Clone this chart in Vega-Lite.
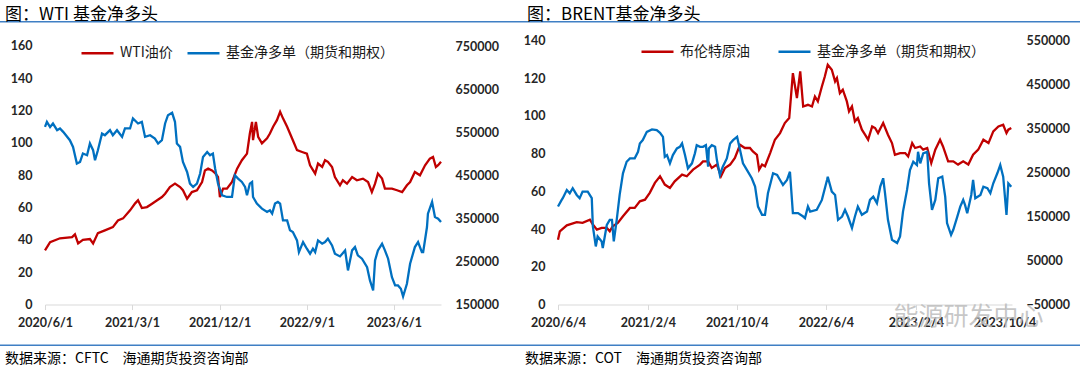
{
"$schema": "https://vega.github.io/schema/vega-lite/v6.json",
"background": "white",
"padding": {"left": 0, "top": 5, "right": 0, "bottom": 0},
"config": {"view": {"stroke": null}, "font": "Noto Sans CJK SC"},
"datasets": {
"wti": [
{"date":"2020-06-01","v":33.5},{"date":"2020-06-17","v":38.6},{"date":"2020-07-18","v":41},{"date":"2020-08-25","v":41.7},{"date":"2020-09-03","v":43.4},{"date":"2020-09-13","v":37.8},{"date":"2020-09-28","v":40},{"date":"2020-10-20","v":40.5},{"date":"2020-10-30","v":37.8},{"date":"2020-11-14","v":44.2},{"date":"2020-12-06","v":45.9},{"date":"2020-12-31","v":47.9},{"date":"2021-01-16","v":52},{"date":"2021-02-01","v":53.3},{"date":"2021-02-23","v":58.3},{"date":"2021-03-11","v":62.6},{"date":"2021-03-20","v":64.5},{"date":"2021-04-01","v":59.7},{"date":"2021-04-17","v":60.3},{"date":"2021-05-03","v":62.4},{"date":"2021-05-19","v":64.5},{"date":"2021-06-03","v":66.5},{"date":"2021-06-13","v":68.6},{"date":"2021-06-28","v":72.7},{"date":"2021-07-14","v":74.8},{"date":"2021-07-30","v":72.7},{"date":"2021-08-08","v":70.7},{"date":"2021-08-21","v":65.5},{"date":"2021-09-05","v":69.6},{"date":"2021-09-21","v":70.7},{"date":"2021-10-07","v":75.8},{"date":"2021-10-16","v":83},{"date":"2021-10-26","v":84.1},{"date":"2021-11-07","v":83},{"date":"2021-11-17","v":81.4},{"date":"2021-11-26","v":78.9},{"date":"2021-12-02","v":66.5},{"date":"2021-12-12","v":71.7},{"date":"2021-12-24","v":71.7},{"date":"2022-01-09","v":75.8},{"date":"2022-01-25","v":84.1},{"date":"2022-02-09","v":89.3},{"date":"2022-02-25","v":93.4},{"date":"2022-03-06","v":105.8},{"date":"2022-03-13","v":113},{"date":"2022-03-16","v":101.7},{"date":"2022-03-25","v":113},{"date":"2022-04-01","v":103.8},{"date":"2022-04-13","v":99.7},{"date":"2022-04-29","v":102.8},{"date":"2022-05-08","v":105.8},{"date":"2022-05-18","v":110},{"date":"2022-05-30","v":114.1},{"date":"2022-06-09","v":119.3},{"date":"2022-06-18","v":115.2},{"date":"2022-07-01","v":110},{"date":"2022-07-10","v":105.8},{"date":"2022-07-19","v":101.7},{"date":"2022-08-01","v":95.5},{"date":"2022-08-17","v":94.4},{"date":"2022-09-01","v":93.4},{"date":"2022-09-11","v":86.2},{"date":"2022-09-27","v":81},{"date":"2022-10-06","v":87.2},{"date":"2022-10-19","v":85.1},{"date":"2022-10-28","v":89.3},{"date":"2022-11-06","v":88.3},{"date":"2022-11-19","v":85.1},{"date":"2022-11-28","v":78.9},{"date":"2022-12-14","v":73.8},{"date":"2022-12-23","v":76.9},{"date":"2023-01-05","v":74.8},{"date":"2023-01-21","v":78.9},{"date":"2023-02-05","v":76.9},{"date":"2023-02-24","v":77.9},{"date":"2023-03-12","v":75.8},{"date":"2023-03-24","v":69.6},{"date":"2023-04-03","v":74.8},{"date":"2023-04-12","v":81},{"date":"2023-04-25","v":77.9},{"date":"2023-05-04","v":71.7},{"date":"2023-05-26","v":71.7},{"date":"2023-06-11","v":70.7},{"date":"2023-06-27","v":69.6},{"date":"2023-07-12","v":73.8},{"date":"2023-07-22","v":75.8},{"date":"2023-08-06","v":82},{"date":"2023-08-22","v":80},{"date":"2023-09-07","v":86.2},{"date":"2023-09-22","v":90.3},{"date":"2023-10-02","v":91.3},{"date":"2023-10-11","v":85.1},{"date":"2023-10-18","v":86.2},{"date":"2023-10-27","v":88.3}
],
"wtiNet": [
{"date":"2020-06-01","v":562300},{"date":"2020-06-07","v":574000},{"date":"2020-06-17","v":562000},{"date":"2020-06-26","v":570000},{"date":"2020-07-09","v":554600},{"date":"2020-07-18","v":558600},{"date":"2020-07-28","v":550700},{"date":"2020-08-18","v":531400},{"date":"2020-08-28","v":515800},{"date":"2020-09-09","v":477200},{"date":"2020-09-19","v":481000},{"date":"2020-09-28","v":500500},{"date":"2020-10-11","v":496500},{"date":"2020-10-20","v":523700},{"date":"2020-10-30","v":508100},{"date":"2020-11-05","v":484900},{"date":"2020-11-14","v":508100},{"date":"2020-11-27","v":547000},{"date":"2020-12-06","v":543000},{"date":"2020-12-22","v":554600},{"date":"2020-12-31","v":543000},{"date":"2021-01-13","v":554600},{"date":"2021-01-29","v":539100},{"date":"2021-02-07","v":558600},{"date":"2021-02-23","v":558600},{"date":"2021-03-04","v":581800},{"date":"2021-03-20","v":570200},{"date":"2021-04-01","v":574000},{"date":"2021-04-11","v":539100},{"date":"2021-04-27","v":543000},{"date":"2021-05-12","v":535300},{"date":"2021-05-22","v":523700},{"date":"2021-06-03","v":531400},{"date":"2021-06-13","v":570200},{"date":"2021-06-22","v":589500},{"date":"2021-07-05","v":595000},{"date":"2021-07-14","v":574000},{"date":"2021-07-20","v":523700},{"date":"2021-07-30","v":515800},{"date":"2021-08-08","v":481000},{"date":"2021-08-21","v":457700},{"date":"2021-08-30","v":430700},{"date":"2021-09-09","v":422800},{"date":"2021-09-21","v":430700},{"date":"2021-10-01","v":454000},{"date":"2021-10-10","v":492600},{"date":"2021-10-23","v":504200},{"date":"2021-11-01","v":496500},{"date":"2021-11-10","v":500500},{"date":"2021-11-17","v":465600},{"date":"2021-11-26","v":430700},{"date":"2021-12-09","v":403500},{"date":"2021-12-24","v":399600},{"date":"2022-01-09","v":399600},{"date":"2022-01-18","v":450000},{"date":"2022-01-28","v":442300},{"date":"2022-02-09","v":434400},{"date":"2022-02-19","v":422800},{"date":"2022-02-25","v":403500},{"date":"2022-03-06","v":430700},{"date":"2022-03-13","v":434400},{"date":"2022-03-16","v":399600},{"date":"2022-03-28","v":384200},{"date":"2022-04-13","v":372600},{"date":"2022-04-29","v":364700},{"date":"2022-05-08","v":368600},{"date":"2022-05-15","v":360900},{"date":"2022-05-24","v":384200},{"date":"2022-06-02","v":388000},{"date":"2022-06-09","v":384200},{"date":"2022-06-18","v":345300},{"date":"2022-07-01","v":345300},{"date":"2022-07-10","v":322100},{"date":"2022-07-19","v":318200},{"date":"2022-08-01","v":298800},{"date":"2022-08-07","v":271600},{"date":"2022-08-20","v":294900},{"date":"2022-09-01","v":279500},{"date":"2022-09-11","v":267900},{"date":"2022-09-20","v":279500},{"date":"2022-09-27","v":271600},{"date":"2022-10-06","v":298800},{"date":"2022-10-19","v":291200},{"date":"2022-10-28","v":294900},{"date":"2022-11-06","v":302800},{"date":"2022-11-19","v":287200},{"date":"2022-11-28","v":267900},{"date":"2022-12-14","v":261600},{"date":"2022-12-30","v":275600},{"date":"2023-01-08","v":229100},{"date":"2023-01-21","v":275600},{"date":"2023-01-30","v":283300},{"date":"2023-02-08","v":264000},{"date":"2023-02-21","v":256300},{"date":"2023-03-09","v":236700},{"date":"2023-03-18","v":205800},{"date":"2023-03-28","v":182600},{"date":"2023-04-03","v":252300},{"date":"2023-04-12","v":275600},{"date":"2023-04-25","v":291200},{"date":"2023-05-04","v":275600},{"date":"2023-05-14","v":256300},{"date":"2023-05-26","v":213500},{"date":"2023-06-05","v":194200},{"date":"2023-06-14","v":194200},{"date":"2023-06-23","v":186500},{"date":"2023-06-30","v":168600},{"date":"2023-07-12","v":198100},{"date":"2023-07-22","v":244700},{"date":"2023-08-06","v":283300},{"date":"2023-08-16","v":294900},{"date":"2023-08-28","v":271600},{"date":"2023-09-01","v":271600},{"date":"2023-09-13","v":329800},{"date":"2023-09-16","v":360900},{"date":"2023-09-29","v":388000},{"date":"2023-10-08","v":353000},{"date":"2023-10-18","v":349300},{"date":"2023-10-27","v":341400}
],
"brent": [
{"date":"2020-06-04","v":34.4},{"date":"2020-06-09","v":38.8},{"date":"2020-06-28","v":42},{"date":"2020-07-25","v":43.7},{"date":"2020-08-10","v":43.3},{"date":"2020-08-30","v":45},{"date":"2020-09-07","v":42.4},{"date":"2020-09-18","v":39.7},{"date":"2020-10-01","v":40.6},{"date":"2020-10-15","v":40.6},{"date":"2020-10-23","v":38.8},{"date":"2020-10-31","v":41.5},{"date":"2020-11-14","v":43.3},{"date":"2020-11-28","v":46.8},{"date":"2020-12-17","v":51.2},{"date":"2020-12-30","v":51.2},{"date":"2021-01-13","v":54.7},{"date":"2021-01-27","v":55.6},{"date":"2021-02-09","v":59.2},{"date":"2021-02-23","v":64.5},{"date":"2021-03-09","v":68},{"date":"2021-03-22","v":63.6},{"date":"2021-04-05","v":61.8},{"date":"2021-04-18","v":65.3},{"date":"2021-05-08","v":68.9},{"date":"2021-05-21","v":68},{"date":"2021-06-07","v":71.5},{"date":"2021-06-26","v":74.2},{"date":"2021-07-04","v":75.9},{"date":"2021-07-18","v":75.9},{"date":"2021-07-28","v":72.4},{"date":"2021-08-11","v":74.2},{"date":"2021-08-22","v":68},{"date":"2021-09-02","v":72.4},{"date":"2021-09-16","v":74.2},{"date":"2021-09-29","v":77.7},{"date":"2021-10-13","v":84.7},{"date":"2021-10-26","v":83},{"date":"2021-11-09","v":83},{"date":"2021-11-17","v":81.2},{"date":"2021-11-28","v":79.4},{"date":"2021-12-04","v":71.5},{"date":"2021-12-12","v":74.2},{"date":"2021-12-20","v":73.3},{"date":"2022-01-03","v":80.3},{"date":"2022-01-16","v":87.4},{"date":"2022-01-30","v":90.9},{"date":"2022-02-12","v":96.2},{"date":"2022-02-24","v":98.9},{"date":"2022-03-06","v":122.7},{"date":"2022-03-17","v":109.5},{"date":"2022-03-26","v":123.6},{"date":"2022-04-03","v":105},{"date":"2022-04-16","v":105.9},{"date":"2022-04-27","v":105},{"date":"2022-05-05","v":110.3},{"date":"2022-05-13","v":107.7},{"date":"2022-05-24","v":115.6},{"date":"2022-06-01","v":120.9},{"date":"2022-06-09","v":127.1},{"date":"2022-06-20","v":124.5},{"date":"2022-06-29","v":118.3},{"date":"2022-07-04","v":120.1},{"date":"2022-07-12","v":112.1},{"date":"2022-07-20","v":113.9},{"date":"2022-07-31","v":107.7},{"date":"2022-08-06","v":102.4},{"date":"2022-08-14","v":105},{"date":"2022-08-22","v":97.1},{"date":"2022-08-30","v":98.9},{"date":"2022-09-10","v":92.7},{"date":"2022-09-19","v":90},{"date":"2022-09-27","v":87.4},{"date":"2022-10-08","v":94.4},{"date":"2022-10-16","v":93.6},{"date":"2022-10-24","v":90.9},{"date":"2022-11-07","v":96.2},{"date":"2022-11-20","v":90},{"date":"2022-12-01","v":85.6},{"date":"2022-12-09","v":79.4},{"date":"2022-12-23","v":80.3},{"date":"2023-01-06","v":80.3},{"date":"2023-01-14","v":78.5},{"date":"2023-01-25","v":85.6},{"date":"2023-02-02","v":83},{"date":"2023-02-16","v":83.8},{"date":"2023-02-24","v":82.1},{"date":"2023-03-07","v":83},{"date":"2023-03-18","v":75},{"date":"2023-03-29","v":82.1},{"date":"2023-04-11","v":87.4},{"date":"2023-04-19","v":83.8},{"date":"2023-05-03","v":75.9},{"date":"2023-05-17","v":75.9},{"date":"2023-05-30","v":74.2},{"date":"2023-06-13","v":75.9},{"date":"2023-06-27","v":74.2},{"date":"2023-07-10","v":79.4},{"date":"2023-07-24","v":82.1},{"date":"2023-08-07","v":87.4},{"date":"2023-08-21","v":85.6},{"date":"2023-09-03","v":91.8},{"date":"2023-09-17","v":94.4},{"date":"2023-09-30","v":95.3},{"date":"2023-10-09","v":90.9},{"date":"2023-10-14","v":92.7},{"date":"2023-10-22","v":93.6}
],
"brentNet": [
{"date":"2020-06-04","v":172600},{"date":"2020-06-14","v":187700},{"date":"2020-06-17","v":191600},{"date":"2020-06-28","v":210400},{"date":"2020-07-06","v":202900},{"date":"2020-07-14","v":214200},{"date":"2020-07-25","v":199000},{"date":"2020-08-02","v":191600},{"date":"2020-08-10","v":206500},{"date":"2020-08-24","v":206500},{"date":"2020-09-04","v":191600},{"date":"2020-09-07","v":127300},{"date":"2020-09-15","v":82000},{"date":"2020-09-20","v":104600},{"date":"2020-10-01","v":93300},{"date":"2020-10-04","v":78400},{"date":"2020-10-15","v":131100},{"date":"2020-10-23","v":142400},{"date":"2020-10-29","v":142400},{"date":"2020-11-03","v":93300},{"date":"2020-11-11","v":142400},{"date":"2020-11-19","v":199000},{"date":"2020-11-28","v":248200},{"date":"2020-12-08","v":274400},{"date":"2020-12-17","v":282100},{"date":"2020-12-30","v":282100},{"date":"2021-01-08","v":297100},{"date":"2021-01-13","v":316100},{"date":"2021-01-21","v":323600},{"date":"2021-02-01","v":342400},{"date":"2021-02-15","v":347800},{"date":"2021-02-28","v":346200},{"date":"2021-03-09","v":340100},{"date":"2021-03-17","v":331000},{"date":"2021-03-22","v":285700},{"date":"2021-03-28","v":289600},{"date":"2021-04-05","v":270800},{"date":"2021-04-13","v":289600},{"date":"2021-04-24","v":304800},{"date":"2021-05-02","v":308400},{"date":"2021-05-08","v":316100},{"date":"2021-05-16","v":289600},{"date":"2021-05-24","v":259500},{"date":"2021-06-04","v":270800},{"date":"2021-06-12","v":293500},{"date":"2021-06-17","v":312200},{"date":"2021-06-26","v":308400},{"date":"2021-07-04","v":308400},{"date":"2021-07-12","v":312200},{"date":"2021-07-18","v":263100},{"date":"2021-07-20","v":304800},{"date":"2021-07-28","v":312200},{"date":"2021-08-06","v":308400},{"date":"2021-08-11","v":278300},{"date":"2021-08-19","v":244300},{"date":"2021-08-27","v":263100},{"date":"2021-09-07","v":282100},{"date":"2021-09-16","v":316100},{"date":"2021-09-24","v":323600},{"date":"2021-10-05","v":331000},{"date":"2021-10-13","v":300900},{"date":"2021-10-21","v":270800},{"date":"2021-11-01","v":255600},{"date":"2021-11-14","v":236900},{"date":"2021-11-23","v":217800},{"date":"2021-12-01","v":172600},{"date":"2021-12-12","v":153800},{"date":"2021-12-20","v":153800},{"date":"2021-12-28","v":202900},{"date":"2022-01-11","v":248200},{"date":"2022-01-22","v":244300},{"date":"2022-01-30","v":233000},{"date":"2022-02-07","v":221700},{"date":"2022-02-18","v":233000},{"date":"2022-02-26","v":251800},{"date":"2022-03-06","v":157600},{"date":"2022-03-20","v":157600},{"date":"2022-04-03","v":149900},{"date":"2022-04-08","v":146300},{"date":"2022-04-16","v":172600},{"date":"2022-04-22","v":161200},{"date":"2022-05-10","v":165100},{"date":"2022-05-24","v":187700},{"date":"2022-06-07","v":233000},{"date":"2022-06-09","v":240500},{"date":"2022-06-20","v":206500},{"date":"2022-06-29","v":199000},{"date":"2022-07-07","v":142400},{"date":"2022-07-18","v":149900},{"date":"2022-07-26","v":165100},{"date":"2022-08-03","v":149900},{"date":"2022-08-14","v":123700},{"date":"2022-08-22","v":149900},{"date":"2022-08-30","v":172600},{"date":"2022-09-10","v":153800},{"date":"2022-09-24","v":161200},{"date":"2022-10-02","v":187700},{"date":"2022-10-11","v":195200},{"date":"2022-10-21","v":180300},{"date":"2022-10-30","v":217800},{"date":"2022-11-07","v":236900},{"date":"2022-11-12","v":202900},{"date":"2022-11-20","v":142400},{"date":"2022-12-01","v":97200},{"date":"2022-12-15","v":89700},{"date":"2022-12-23","v":104600},{"date":"2022-12-31","v":161200},{"date":"2023-01-11","v":210400},{"date":"2023-01-19","v":255600},{"date":"2023-01-28","v":274400},{"date":"2023-02-07","v":267000},{"date":"2023-02-10","v":297100},{"date":"2023-02-16","v":270800},{"date":"2023-02-24","v":293500},{"date":"2023-03-07","v":297100},{"date":"2023-03-12","v":225500},{"date":"2023-03-20","v":165100},{"date":"2023-03-29","v":187700},{"date":"2023-04-06","v":236900},{"date":"2023-04-17","v":240500},{"date":"2023-04-25","v":195200},{"date":"2023-04-30","v":135000},{"date":"2023-05-11","v":108500},{"date":"2023-05-17","v":119800},{"date":"2023-05-28","v":149900},{"date":"2023-06-05","v":172600},{"date":"2023-06-13","v":187700},{"date":"2023-06-18","v":176400},{"date":"2023-06-24","v":157600},{"date":"2023-07-05","v":199000},{"date":"2023-07-10","v":233000},{"date":"2023-07-16","v":191600},{"date":"2023-07-30","v":199000},{"date":"2023-08-07","v":217800},{"date":"2023-08-18","v":214200},{"date":"2023-08-26","v":202900},{"date":"2023-09-03","v":225500},{"date":"2023-09-14","v":248200},{"date":"2023-09-22","v":267000},{"date":"2023-09-30","v":240500},{"date":"2023-10-09","v":153800},{"date":"2023-10-14","v":225500},{"date":"2023-10-22","v":217800}
]
},
"columns": 5,
"bounds": "flush",
"spacing": {"row": 17.5, "column": 0},
"resolve": {"scale": {"color": "independent"}},
"concat": [
 {"width": 45, "height": 1.5, "view": {"fill": "#3F7FC4", "stroke": null}, "data": {"values": [{}]}, "mark": {"type": "text", "text": ""}, "encoding": {},
  "title": {"text": "图：WTI 基金净多头", "anchor": "start", "dx": 5, "dy": 22.5, "offset": 1.5, "limit": 1000, "baseline": "alphabetic", "fontSize": 17, "fontWeight": "normal", "color": "#000000", "font": "Noto Sans CJK SC"}},
 {"width": 396, "height": 1.5, "view": {"fill": "#3F7FC4", "stroke": null}, "data": {"values": [{}]}, "mark": {"type": "text", "text": ""}, "encoding": {}},
 {"width": 117, "height": 1.5, "view": {"fill": "#3F7FC4", "stroke": null}, "data": {"values": [{}]}, "mark": {"type": "text", "text": ""}, "encoding": {},
  "title": {"text": "图：BRENT基金净多头", "anchor": "start", "dx": 86, "dy": 22.5, "offset": 1.5, "limit": 1000, "baseline": "alphabetic", "fontSize": 17, "fontWeight": "normal", "color": "#000000", "font": "Noto Sans CJK SC"}},
 {"width": 454, "height": 1.5, "view": {"fill": "#3F7FC4", "stroke": null}, "data": {"values": [{}]}, "mark": {"type": "text", "text": ""}, "encoding": {}},
 {"width": 68, "height": 1.5, "view": {"fill": "#3F7FC4", "stroke": null}, "data": {"values": [{}]}, "mark": {"type": "text", "text": ""}, "encoding": {}},

 {"width": 45, "height": 264, "data": {"values": [{}]}, "mark": {"type": "text", "text": ""}, "encoding": {}},
 {"width": 396, "height": 264,
  "resolve": {"scale": {"y": "independent"}},
  "layer": [
   {"data": {"name": "wti"}, "mark": {"type": "line", "strokeWidth": 2.3},
    "encoding": {
     "x": {"field": "date", "type": "temporal",
       "scale": {"domain": [{"year": 2020, "month": 6, "date": 1, "utc": true}, {"year": 2023, "month": 10, "date": 27, "utc": true}]},
       "axis": {"title": null, "grid": false, "values": [{"year": 2020, "month": 6, "date": 1, "utc": true}, {"year": 2021, "month": 3, "date": 1, "utc": true}, {"year": 2021, "month": 12, "date": 1, "utc": true}, {"year": 2022, "month": 9, "date": 1, "utc": true}, {"year": 2023, "month": 6, "date": 1, "utc": true}],
         "labelExpr": "utcFormat(datum.value, '%Y/%-m/%-d')", "domainColor": "#D9D9D9", "tickColor": "#D9D9D9", "tickSize": 5, "labelPadding": 7, "labelFont": "Lato", "labelFontWeight": "bold", "labelFontSize": 12.5, "labelColor": "#262626", "labelFlush": false, "labelOverlap": false}},
     "y": {"field": "v", "type": "quantitative", "scale": {"domain": [0, 163.4], "nice": false, "zero": false},
       "axis": {"orient": "left", "title": null, "grid": false, "domain": false, "ticks": false, "values": [0, 20, 40, 60, 80, 100, 120, 140, 160], "labelPadding": 13, "labelFont": "Lato", "labelFontWeight": "bold", "labelFontSize": 12.5, "labelColor": "#262626"}},
     "color": {"datum": "WTI油价", "type": "nominal", "scale": {"domain": ["WTI油价", "基金净多单（期货和期权）"], "range": ["#C00000", "#0070C0"]},
       "legend": {"title": null, "orient": "none", "legendX": 35, "legendY": -5, "direction": "horizontal", "symbolType": "stroke", "symbolSize": 1024, "symbolStrokeWidth": 2.5, "labelFontSize": 14, "labelFont": "Noto Sans CJK SC", "labelColor": "#1a1a1a", "labelLimit": 400, "columnPadding": 9, "labelOffset": 5, "padding": 0}}
    }},
   {"data": {"name": "wtiNet"}, "mark": {"type": "line", "strokeWidth": 2.3},
    "encoding": {
     "x": {"field": "date", "type": "temporal"},
     "y": {"field": "v", "type": "quantitative", "scale": {"domain": [150000, 762800], "nice": false, "zero": false},
       "axis": {"orient": "right", "title": null, "grid": false, "domain": false, "ticks": false, "values": [150000, 250000, 350000, 450000, 550000, 650000, 750000], "format": "d", "labelPadding": 14, "labelFont": "Lato", "labelFontWeight": "bold", "labelFontSize": 12.5, "labelColor": "#262626"}},
     "color": {"datum": "基金净多单（期货和期权）", "type": "nominal"}
    }}
  ]},
 {"width": 117, "height": 264, "data": {"values": [{}]}, "mark": {"type": "text", "text": ""}, "encoding": {}},
 {"width": 454, "height": 264,
  "resolve": {"scale": {"y": "independent"}},
  "layer": [
   {"data": {"name": "brent"}, "mark": {"type": "line", "strokeWidth": 2.3},
    "encoding": {
     "x": {"field": "date", "type": "temporal",
       "scale": {"domain": [{"year": 2020, "month": 6, "date": 4, "utc": true}, {"year": 2023, "month": 10, "date": 24, "utc": true}]},
       "axis": {"grid": false, "values": [{"year": 2020, "month": 6, "date": 4, "utc": true}, {"year": 2021, "month": 2, "date": 4, "utc": true}, {"year": 2021, "month": 10, "date": 4, "utc": true}, {"year": 2022, "month": 6, "date": 4, "utc": true}, {"year": 2023, "month": 2, "date": 4, "utc": true}, {"year": 2023, "month": 10, "date": 4, "utc": true}],
         "labelExpr": "utcFormat(datum.value, '%Y/%-m/%-d')", "domainColor": "#D9D9D9", "tickColor": "#D9D9D9", "tickSize": 5, "labelPadding": 7, "labelFont": "Lato", "labelFontWeight": "bold", "labelFontSize": 12.5, "labelColor": "#262626", "labelFlush": false, "labelOverlap": false,
         "title": "能源研发中心", "titleX": 410, "titleY": 12, "titleAlign": "center", "titleBaseline": "middle", "titleFontSize": 25, "titleFont": "Noto Sans CJK SC", "titleFontWeight": "normal", "titleColor": "#BDBDBD", "titleOpacity": 0.85}},
     "y": {"field": "v", "type": "quantitative", "scale": {"domain": [0, 140], "nice": false, "zero": false},
       "axis": {"orient": "left", "title": null, "grid": false, "domain": false, "ticks": false, "values": [0, 20, 40, 60, 80, 100, 120, 140], "labelPadding": 13, "labelFont": "Lato", "labelFontWeight": "bold", "labelFontSize": 12.5, "labelColor": "#262626"}},
     "color": {"datum": "布伦特原油", "type": "nominal", "scale": {"domain": ["布伦特原油", "基金净多单（期货和期权）"], "range": ["#C00000", "#0070C0"]},
       "legend": {"title": null, "orient": "none", "legendX": 82, "legendY": -6.5, "direction": "horizontal", "symbolType": "stroke", "symbolSize": 1024, "symbolStrokeWidth": 2.5, "labelFontSize": 14, "labelFont": "Noto Sans CJK SC", "labelColor": "#1a1a1a", "labelLimit": 400, "columnPadding": 23, "labelOffset": 5, "padding": 0}}
    }},
   {"data": {"name": "brentNet"}, "mark": {"type": "line", "strokeWidth": 2.3},
    "encoding": {
     "x": {"field": "date", "type": "temporal"},
     "y": {"field": "v", "type": "quantitative", "scale": {"domain": [-50000, 550000], "nice": false, "zero": false},
       "axis": {"orient": "right", "title": null, "grid": false, "domain": false, "ticks": false, "values": [-50000, 50000, 150000, 250000, 350000, 450000, 550000], "format": "d", "labelPadding": 14, "labelFont": "Lato", "labelFontWeight": "bold", "labelFontSize": 12.5, "labelColor": "#262626"}},
     "color": {"datum": "基金净多单（期货和期权）", "type": "nominal"}
    }}
  ]},
 {"width": 68, "height": 264, "data": {"values": [{}]}, "mark": {"type": "text", "text": ""}, "encoding": {}},

 {"width": 45, "height": 5, "data": {"values": [{}]}, "mark": {"type": "text", "text": ""}, "encoding": {}},
 {"width": 396, "height": 5, "data": {"values": [{}]}, "mark": {"type": "text", "text": ""}, "encoding": {}},
 {"width": 117, "height": 5, "data": {"values": [{}]}, "mark": {"type": "text", "text": ""}, "encoding": {}},
 {"width": 454, "height": 5, "data": {"values": [{}]}, "mark": {"type": "text", "text": ""}, "encoding": {}},
 {"width": 68, "height": 5, "data": {"values": [{}]}, "mark": {"type": "text", "text": ""}, "encoding": {}},

 {"width": 45, "height": 1.5, "view": {"fill": "#3F7FC4", "stroke": null}, "data": {"values": [{}]}, "mark": {"type": "text", "text": ""}, "encoding": {},
  "title": {"text": "数据来源：CFTC　海通期货投资咨询部", "orient": "bottom", "anchor": "start", "dx": 5, "offset": 2, "limit": 1000, "baseline": "top", "fontSize": 14, "fontWeight": "normal", "color": "#000000", "font": "Noto Sans CJK SC"}},
 {"width": 396, "height": 1.5, "view": {"fill": "#3F7FC4", "stroke": null}, "data": {"values": [{}]}, "mark": {"type": "text", "text": ""}, "encoding": {}},
 {"width": 117, "height": 1.5, "view": {"fill": "#3F7FC4", "stroke": null}, "data": {"values": [{}]}, "mark": {"type": "text", "text": ""}, "encoding": {},
  "title": {"text": "数据来源：COT　海通期货投资咨询部", "orient": "bottom", "anchor": "start", "dx": 84, "offset": 2, "limit": 1000, "baseline": "top", "fontSize": 14, "fontWeight": "normal", "color": "#000000", "font": "Noto Sans CJK SC"}},
 {"width": 454, "height": 1.5, "view": {"fill": "#3F7FC4", "stroke": null}, "data": {"values": [{}]}, "mark": {"type": "text", "text": ""}, "encoding": {}},
 {"width": 68, "height": 1.5, "view": {"fill": "#3F7FC4", "stroke": null}, "data": {"values": [{}]}, "mark": {"type": "text", "text": ""}, "encoding": {}}
]
}
